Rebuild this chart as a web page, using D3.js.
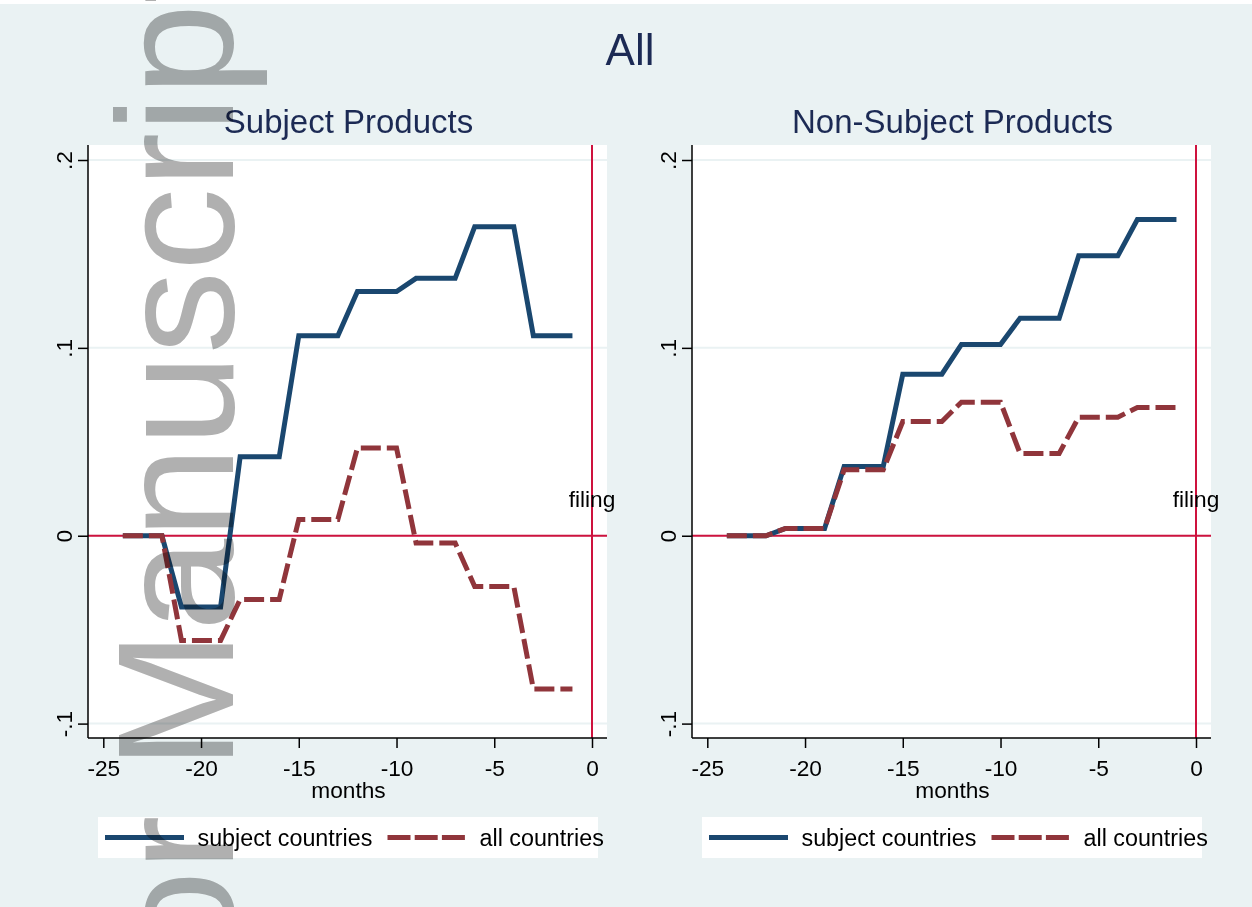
<!DOCTYPE html>
<html><head><meta charset="utf-8">
<script src="https://cdn.jsdelivr.net/npm/d3@7"></script>
<style>
body{margin:0;background:#eaf2f3;overflow:hidden}
svg{display:block}
text{font-family:"Liberation Sans",Arial,Helvetica,sans-serif}
</style>
</head><body>
<svg id="chart" width="1252" height="907"></svg>
<script>
// ---------- data ----------
const months = [-24,-23,-22,-21,-20,-19,-18,-17,-16,-15,-14,-13,-12,-11,-10,-9,-8,-7,-6,-5,-4,-3,-2,-1];
const subjProdSubjectCountries = [0,0,0,-0.038,-0.038,-0.038,0.042,0.042,0.042,0.1065,0.1065,0.1065,0.130,0.130,0.130,0.137,0.137,0.137,0.1645,0.1645,0.1645,0.1065,0.1065,0.1065];
const subjProdAllCountries     = [0,0,0,-0.0557,-0.0557,-0.0557,-0.0339,-0.0339,-0.0339,0.0087,0.0087,0.0087,0.0467,0.0467,0.0467,-0.0039,-0.0039,-0.0039,-0.027,-0.027,-0.027,-0.0816,-0.0816,-0.0816];
const nonSubjProdSubjectCountries = [0,0,0,0.0039,0.0039,0.0039,0.0369,0.0369,0.0369,0.086,0.086,0.086,0.1018,0.1018,0.1018,0.1158,0.1158,0.1158,0.149,0.149,0.149,0.1683,0.1683,0.1683];
const nonSubjProdAllCountries     = [0,0,0,0.0039,0.0039,0.0039,0.0351,0.0351,0.0351,0.0608,0.0608,0.0608,0.0711,0.0711,0.0711,0.0438,0.0438,0.0438,0.0631,0.0631,0.0631,0.0683,0.0683,0.0683];
const xTicks = [-25,-20,-15,-10,-5,0];
const yTicks = [-0.1,0,0.1,0.2];
const yTickLabels = ["-.1","0",".1",".2"];
const mainTitle = "All";
const panelTitles = ["Subject Products","Non-Subject Products"];
const seriesLabels = ["subject countries","all countries"];
const xAxisTitle = "months";
const refLabel = "filing";
const watermark = "Author Manuscript";

// ---------- style ----------
const BG = "#eaf2f3", NAVY = "#1a476f", MAROON = "#90353b", REF = "#ce123e", TITLE = "#1c2a54";
const FS = 22.7, LFS = 23.3, LW = 5;

const svg = d3.select("#chart");
svg.append("rect").attr("x",0).attr("y",0).attr("width",1252).attr("height",907).attr("fill",BG);
svg.append("rect").attr("x",0).attr("y",0).attr("width",1252).attr("height",4).attr("fill","#fff");

svg.append("text").attr("x",630).attr("y",65).attr("text-anchor","middle")
  .attr("font-size",44).attr("fill",TITLE).text(mainTitle);

const panels = [
  {off:0, title:panelTitles[0], s:subjProdSubjectCountries, a:subjProdAllCountries},
  {off:604, title:panelTitles[1], s:nonSubjProdSubjectCountries, a:nonSubjProdAllCountries}
];

panels.forEach(p => {
  const L = 88 + p.off, R = 607 + p.off, T = 145, B = 738;
  const x = d3.scaleLinear().domain([-25,0]).range([103.3 + p.off, 592 + p.off]);
  const y = d3.scaleLinear().domain([-0.1,0.2]).range([723.6,160]);
  const g = svg.append("g");

  g.append("rect").attr("x",L).attr("y",T).attr("width",R-L).attr("height",B-T).attr("fill","#fff");

  // gridlines
  g.selectAll(".grid").data(yTicks).join("line")
    .attr("x1",L).attr("x2",R).attr("y1",d=>y(d)).attr("y2",d=>y(d))
    .attr("stroke",BG).attr("stroke-width",2);

  // reference lines
  g.append("line").attr("x1",L).attr("x2",R).attr("y1",y(0)).attr("y2",y(0))
    .attr("stroke",REF).attr("stroke-width",2);
  g.append("line").attr("x1",x(0)).attr("x2",x(0)).attr("y1",T).attr("y2",B)
    .attr("stroke",REF).attr("stroke-width",2);

  // panel title
  g.append("text").attr("x",(L+R)/2 + 1).attr("y",133).attr("text-anchor","middle")
    .attr("font-size",33).attr("fill",TITLE).text(p.title);

  // lines
  const line = d3.line().x((d,i)=>x(months[i])).y(d=>y(d));
  g.append("path").datum(p.s).attr("d",line).attr("fill","none")
    .attr("stroke",NAVY).attr("stroke-width",LW).attr("stroke-linejoin","miter");
  g.append("path").datum(p.a).attr("d",line).attr("fill","none")
    .attr("stroke",MAROON).attr("stroke-width",LW).attr("stroke-dasharray","20,6").attr("stroke-linejoin","miter");

  // filing label
  g.append("text").attr("x",x(0)).attr("y",507).attr("text-anchor","middle")
    .attr("font-size",FS).attr("fill","#000").text(refLabel);

  // x axis
  const xa = g.append("g").attr("transform",`translate(0,${B})`)
    .call(d3.axisBottom(x).tickValues(xTicks).tickFormat(d3.format("d")).tickSize(10).tickSizeOuter(0).tickPadding(12));
  xa.select(".domain").remove();
  xa.selectAll("line").attr("stroke","#000").attr("stroke-width",1.5);
  xa.selectAll("text").attr("font-size",FS).attr("fill","#000").attr("font-family",null)
    .text(d => d < 0 ? "-" + Math.abs(d) : String(d));
  g.append("line").attr("x1",L).attr("x2",R).attr("y1",B).attr("y2",B).attr("stroke","#000").attr("stroke-width",1.5);

  // y axis
  const ya = g.append("g").attr("transform",`translate(${L},0)`)
    .call(d3.axisLeft(y).tickValues(yTicks).tickSize(10).tickSizeOuter(0).tickFormat((d,i)=>yTickLabels[i]));
  ya.select(".domain").remove();
  ya.selectAll("line").attr("stroke","#000").attr("stroke-width",1.5);
  ya.selectAll("text").attr("font-size",FS).attr("fill","#000").attr("font-family",null)
    .attr("x",null).attr("dy",null).attr("text-anchor","middle")
    .attr("transform","translate(-16,0) rotate(-90)");
  g.append("line").attr("x1",L).attr("x2",L).attr("y1",T).attr("y2",B).attr("stroke","#000").attr("stroke-width",1.5);

  // x axis title
  g.append("text").attr("x",(L+R)/2+1).attr("y",798).attr("text-anchor","middle")
    .attr("font-size",FS).attr("fill","#000").text(xAxisTitle);

  // legend
  const bx = 98 + p.off;
  g.append("rect").attr("x",bx).attr("y",817).attr("width",500).attr("height",41).attr("fill","#fff");
  g.append("line").attr("x1",bx+7).attr("x2",bx+86).attr("y1",837.5).attr("y2",837.5)
    .attr("stroke",NAVY).attr("stroke-width",LW);
  g.append("text").attr("x",bx+99.5).attr("y",846).attr("font-size",LFS).attr("fill","#000").text(seriesLabels[0]);
  g.append("line").attr("x1",bx+289.5).attr("x2",bx+367).attr("y1",837.5).attr("y2",837.5)
    .attr("stroke",MAROON).attr("stroke-width",LW).attr("stroke-dasharray","23,4.2");
  g.append("text").attr("x",bx+381.5).attr("y",846).attr("font-size",LFS).attr("fill","#000").text(seriesLabels[1]);
});

// watermark
svg.append("text").attr("transform","translate(233,1304.5) rotate(-90)")
  .attr("font-size",166).attr("fill","#b0b0b0").style("mix-blend-mode","multiply")
  .text(watermark);
</script>
</body></html>
